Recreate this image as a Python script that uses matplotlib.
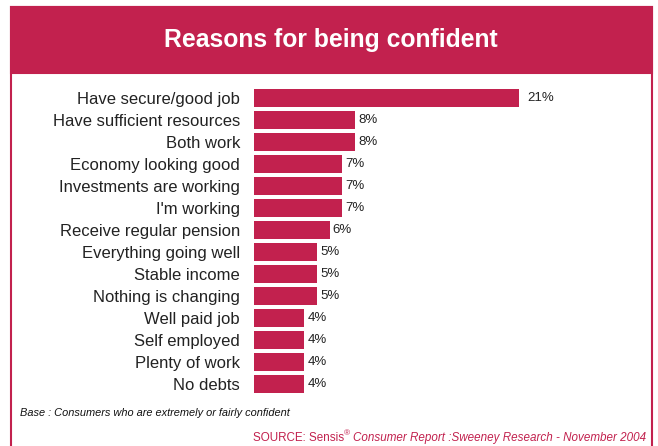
import matplotlib.pyplot as plt
from matplotlib.patches import Rectangle

plt.rcParams['font.family'] = ['Liberation Sans', 'DejaVu Sans']

reasons = ["Have secure/good job", "Have sufficient resources", "Both work",
           "Economy looking good", "Investments are working", "I'm working",
           "Receive regular pension", "Everything going well", "Stable income",
           "Nothing is changing", "Well paid job", "Self employed",
           "Plenty of work", "No debts"]
pct = [21, 8, 8, 7, 7, 7, 6, 5, 5, 5, 4, 4, 4, 4]

crimson = '#C2214E'
W, H = 658, 446

fig = plt.figure(figsize=(W / 100, H / 100), dpi=100)

# panel frame and title band (figure pixel coords, origin top-left)
def fx(px):
    return px / W

def fy(py):
    return 1 - py / H

fig.patches.append(Rectangle((fx(11), fy(460)), fx(652) - fx(11), fy(7) - fy(460),
                             transform=fig.transFigure, fill=False,
                             edgecolor=crimson, linewidth=1.5))
fig.patches.append(Rectangle((fx(11), fy(73)), fx(652) - fx(11), fy(7) - fy(73),
                             transform=fig.transFigure, facecolor=crimson,
                             edgecolor=crimson, linewidth=1.5))
fig.text(fx(331), fy(40), "Reasons for being confident", color='white',
         fontsize=17.8, fontweight='bold', ha='center', va='center')

ax = fig.add_axes([fx(254), fy(395), fx(632) - fx(254), fy(87) - fy(395)])
y = list(range(len(reasons)))
ax.barh(y, pct, height=0.82, color=crimson)
ax.set_xlim(0, 30)
ax.set_ylim(len(reasons) - 0.5, -0.5)
ax.set_yticks(y)
ax.set_yticklabels(reasons, fontsize=12, color='#222222')
ax.tick_params(axis='y', length=0, pad=10)
ax.set_xticks([])
for s in ax.spines.values():
    s.set_visible(False)
for i, v in enumerate(pct):
    ax.text(v + (0.7 if v > 9 else 0.25), i, f"{v}%", va='center', ha='left',
            fontsize=9.5, color='#222222')

fig.text(fx(20), fy(413), "Base : Consumers who are extremely or fairly confident",
         fontsize=7.9, style='italic', color='#111111', va='center')

# source line: plain part, superscript mark, italic part laid end to end
renderer = fig.canvas.get_renderer()
t1 = fig.text(fx(253), fy(438), "SOURCE: Sensis", fontsize=8.4, color=crimson,
              va='center', ha='left')
x1 = t1.get_window_extent(renderer).x1
t2 = fig.text(x1 / W, fy(434), "®", fontsize=6, color=crimson, va='center', ha='left')
x2 = t2.get_window_extent(renderer).x1
fig.text(x2 / W + fx(3), fy(438), "Consumer Report :Sweeney Research - November 2004",
         fontsize=8.4, color=crimson, style='italic', va='center', ha='left')

fig.savefig('out.png', dpi=100)
